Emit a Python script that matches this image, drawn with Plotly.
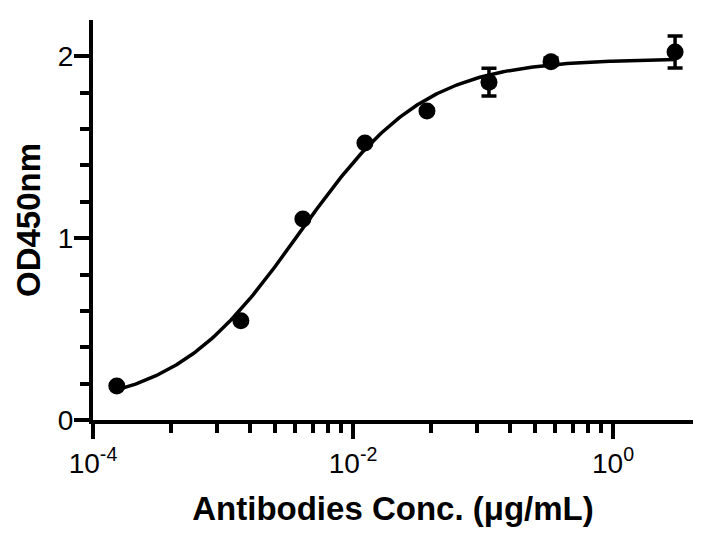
import numpy as np
import plotly.graph_objects as go

# ---- data ----
conc = [0.0001524, 0.001372, 0.004115, 0.01235, 0.03704, 0.1111, 0.3333, 3.0]
od450 = [0.187, 0.546, 1.106, 1.524, 1.700, 1.858, 1.971, 2.024]
od_err = [0.01, 0.01, 0.01, 0.01, 0.01, 0.076, 0.02, 0.088]

x_major_vals = [1e-4, 1e-2, 1.0]
x_major_text = ["10<sup>-4</sup>", "10<sup>-2</sup>", "10<sup>0</sup>"]
y_major_vals = [0, 1, 2]
y_minor_vals = [0.2, 0.4, 0.6, 0.8, 1.2, 1.4, 1.6, 1.8]

x_title = "Antibodies Conc. (μg/mL)"
y_title = "OD450nm"

# minor ticks of a two-decade major spacing (Prism style: k^2 steps)
x_minor_vals = [k * k * base for base in (1e-4, 1e-2) for k in range(2, 10)]

# ---- 4-parameter logistic least-squares fit of the points ----
lx = np.log10(np.array(conc))
yv = np.array(od450)
best = None
for lec in np.arange(-3.2, -1.8, 0.002):
    for h in np.arange(0.5, 1.6, 0.005):
        s = 1.0 / (1.0 + 10 ** ((lec - lx) * h))
        A = np.column_stack([1 - s, s])
        coef, *_ = np.linalg.lstsq(A, yv, rcond=None)
        r = np.sum((A @ coef - yv) ** 2)
        if best is None or r < best[0]:
            best = (r, lec, h, coef[0], coef[1])
_, logec50, hill, bottom, top = best
curve_lx = np.linspace(lx.min(), lx.max(), 300)
curve_x = 10 ** curve_lx
curve_y = bottom + (top - bottom) / (1 + 10 ** ((logec50 - curve_lx) * hill))

FONT = "Liberation Sans, Arial, Helvetica, sans-serif"

fig = go.Figure()
fig.add_trace(go.Scatter(
    x=curve_x, y=curve_y, mode="lines",
    line=dict(color="black", width=3.5), showlegend=False, hoverinfo="skip"))
fig.add_trace(go.Scatter(
    x=conc, y=od450, mode="markers",
    marker=dict(color="black", size=17, symbol="circle"),
    error_y=dict(type="data", array=od_err, color="black", thickness=3.5, width=7.5),
    showlegend=False))

# the page body has an 8px margin, so the figure is sized and placed for it
fig.update_layout(
    width=697, height=526,
    margin=dict(l=84.5, r=12, t=12, b=114),
    paper_bgcolor="white", plot_bgcolor="white",
    font=dict(family=FONT, color="black", size=28),
    xaxis=dict(
        type="log", range=[-4, 0.615],
        showgrid=False, zeroline=False,
        showline=True, linecolor="black", linewidth=4,
        ticks="outside", ticklen=15, tickwidth=4, tickcolor="black",
        tickmode="array", tickvals=x_major_vals, ticktext=x_major_text,
        tickfont=dict(family=FONT, size=28, color="black"),
        minor=dict(tickmode="array", tickvals=x_minor_vals, ticks="outside",
                   ticklen=9, tickwidth=4, tickcolor="black", showgrid=False),
        title=dict(text=x_title, standoff=20,
                   font=dict(family=FONT, size=33, color="black", weight="bold")),
    ),
    yaxis=dict(
        range=[0, 2.2],
        showgrid=False, zeroline=False,
        showline=True, linecolor="black", linewidth=4,
        ticks="outside", ticklen=15, tickwidth=4, tickcolor="black",
        tickmode="array", tickvals=y_major_vals,
        ticklabelstandoff=-5,
        tickfont=dict(family=FONT, size=28, color="black"),
        minor=dict(tickmode="array", tickvals=y_minor_vals, ticks="outside",
                   ticklen=9, tickwidth=4, tickcolor="black", showgrid=False),
        title=dict(text=y_title, standoff=8,
                   font=dict(family=FONT, size=33, color="black", weight="bold")),
    ),
)

fig.write_html("out.html")
